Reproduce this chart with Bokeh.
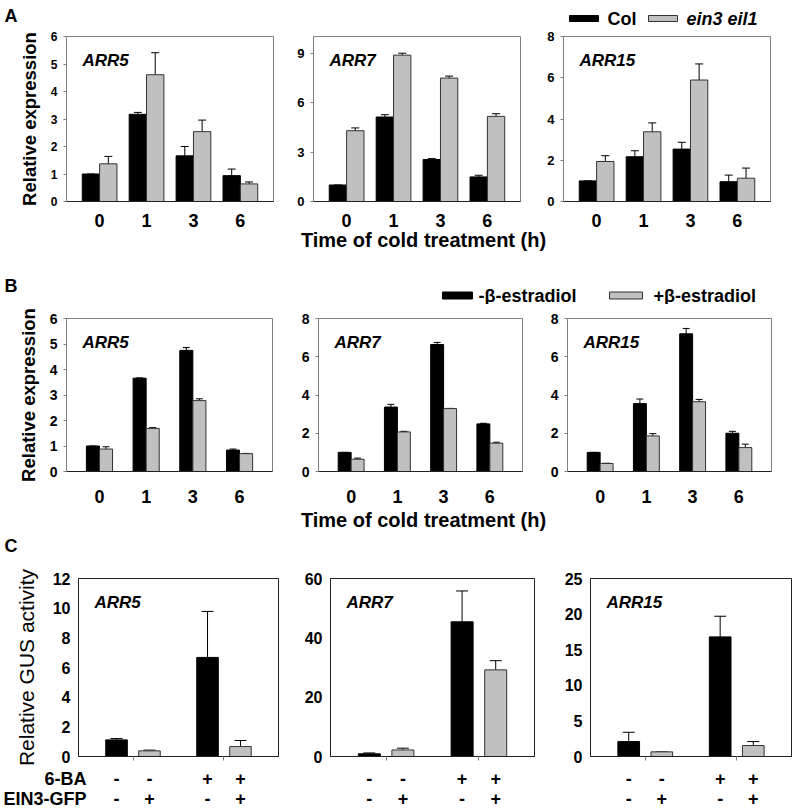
from bokeh.plotting import figure
from bokeh.layouts import column, row
from bokeh.models import (Range1d, FactorRange, FixedTicker, Whisker, TeeHead,
                          ColumnDataSource, Label)
from bokeh.core.properties import value
from bokeh.embed import file_html
from bokeh.resources import INLINE

FONT = "Liberation Sans"
BLACK = "#000000"
GRAY = "#c0c0c0"
EDGE = "#333333"
FRAME = "#808080"
TOTAL_W = 794

# ---------------- data ----------------
times = ["0", "1", "3", "6"]
x_title = "Time of cold treatment (h)"
y_title = "Relative expression"

# Panel A: Col (black) vs ein3 eil1 (gray)
a_legend = ["Col", "ein3 eil1"]
a_arr5_col = [1.00, 3.17, 1.66, 0.94]
a_arr5_col_err = [0.00, 0.07, 0.34, 0.24]
a_arr5_mut = [1.37, 4.61, 2.54, 0.64]
a_arr5_mut_err = [0.27, 0.80, 0.42, 0.07]
a_arr7_col = [1.00, 5.12, 2.54, 1.49]
a_arr7_col_err = [0.00, 0.14, 0.06, 0.10]
a_arr7_mut = [4.29, 8.87, 7.48, 5.16]
a_arr7_mut_err = [0.17, 0.12, 0.12, 0.16]
a_arr15_col = [1.00, 2.17, 2.54, 0.96]
a_arr15_col_err = [0.00, 0.29, 0.33, 0.32]
a_arr15_mut = [1.94, 3.38, 5.89, 1.13]
a_arr15_mut_err = [0.28, 0.43, 0.78, 0.49]

# Panel B: -beta-estradiol (black) vs +beta-estradiol (gray)
b_legend = ["-\u03b2-estradiol", "+\u03b2-estradiol"]
b_arr5_minus = [1.00, 3.66, 4.75, 0.84]
b_arr5_minus_err = [0.00, 0.01, 0.11, 0.04]
b_arr5_plus = [0.88, 1.69, 2.78, 0.70]
b_arr5_plus_err = [0.09, 0.03, 0.07, 0.01]
b_arr7_minus = [1.00, 3.37, 6.64, 2.49]
b_arr7_minus_err = [0.00, 0.14, 0.11, 0.03]
b_arr7_plus = [0.64, 2.07, 3.29, 1.48]
b_arr7_plus_err = [0.06, 0.03, 0.01, 0.05]
b_arr15_minus = [1.00, 3.55, 7.20, 2.00]
b_arr15_minus_err = [0.00, 0.24, 0.28, 0.10]
b_arr15_plus = [0.42, 1.86, 3.65, 1.25]
b_arr15_plus_err = [0.01, 0.12, 0.12, 0.18]

# Panel C: GUS activity
c_y_title = "Relative GUS activity"
c_row_names = ["6-BA", "EIN3-GFP"]
c_ba = ["-", "-", "+", "+"]
c_ein3 = ["-", "+", "-", "+"]
c_arr5 = [1.12, 0.38, 6.68, 0.67]
c_arr5_err = [0.09, 0.05, 3.10, 0.41]
c_arr7 = [0.9, 2.2, 45.4, 29.2]
c_arr7_err = [0.3, 0.6, 10.4, 3.1]
c_arr15 = [2.1, 0.65, 16.8, 1.54]
c_arr15_err = [1.3, 0.0, 2.9, 0.56]


def base_fig(w, h, xr, yr, mbl, mbr, mbt, mbb, outline, **kw):
    p = figure(width=w, height=h, x_range=xr, y_range=yr, output_backend="svg",
               toolbar_location=None, min_border_left=mbl, min_border_right=mbr,
               min_border_top=mbt, min_border_bottom=mbb, **kw)
    p.xgrid.visible = False
    p.ygrid.visible = False
    p.outline_line_color = outline
    p.outline_line_width = 1
    p.background_fill_color = "white"
    p.border_fill_color = "white"
    return p


def add_err(p, xs, vals, errs, cap):
    src = ColumnDataSource(dict(x=xs, lo=vals, hi=[v + e for v, e in zip(vals, errs)]))
    p.add_layout(Whisker(source=src, base="x", lower="lo", upper="hi",
                         line_color="black", line_width=1,
                         upper_head=TeeHead(size=cap, line_color="black", line_width=1),
                         lower_head=None))


def style_y(p, ticks, size, line_color):
    ax = p.yaxis[0]
    ax.ticker = FixedTicker(ticks=ticks)
    ax.minor_tick_line_color = None
    ax.major_tick_in = 0
    ax.major_tick_out = 3
    ax.major_tick_line_color = line_color
    ax.axis_line_color = line_color
    ax.major_label_text_font = FONT
    ax.major_label_text_font_style = "bold"
    ax.major_label_text_font_size = size
    ax.major_label_text_color = "black"
    ax.major_label_standoff = 6


def y_title_on(p, text, size, style, standoff):
    ya = p.yaxis[0]
    ya.axis_label = text
    ya.axis_label_text_font = FONT
    ya.axis_label_text_font_style = style
    ya.axis_label_text_font_size = size
    ya.axis_label_text_color = "black"
    ya.axis_label_standoff = standoff


def gene_label(p, text, xoff, yoff):
    p.add_layout(Label(x=p.x_range.start, y=p.y_range.end, x_offset=xoff, y_offset=-yoff,
                       text=text, text_font=FONT, text_font_style="bold italic",
                       text_font_size="17px", text_color="black", text_baseline="middle"))


def time_panel(gene, s1, e1, s2, e2, ymax, ystep, w, h, mbl, mbr, mbt, mbb,
               barw, cap, ysize, xstand, ylabel=False):
    p = base_fig(w, h, Range1d(-0.706, 3.706), Range1d(0, ymax), mbl, mbr, mbt, mbb, FRAME)
    idx = list(range(len(times)))
    x1 = [i - barw / 2 for i in idx]
    x2 = [i + barw / 2 for i in idx]
    p.vbar(x=x1, top=s1, width=barw, fill_color=BLACK, line_color=BLACK)
    p.vbar(x=x2, top=s2, width=barw, fill_color=GRAY, line_color=EDGE)
    add_err(p, x1, s1, e1, cap)
    add_err(p, x2, s2, e2, cap)
    style_y(p, list(range(0, ymax + 1, ystep)), ysize, FRAME)
    xa = p.xaxis[0]
    xa.ticker = FixedTicker(ticks=idx)
    xa.major_label_overrides = {i: t for i, t in zip(idx, times)}
    xa.major_tick_line_color = None
    xa.minor_tick_line_color = None
    xa.axis_line_color = "#222222"
    xa.major_label_text_font = FONT
    xa.major_label_text_font_style = "bold"
    xa.major_label_text_font_size = "18px"
    xa.major_label_text_color = "black"
    xa.major_label_standoff = xstand
    if ylabel:
        y_title_on(p, y_title, "18.5px", "bold", 8)
    gene_label(p, gene, 16, 24)
    return p


C_OFF = 0.181
C_BARW = 0.237
c_x = [g + s * C_OFF for g in range(2) for s in (-1, 1)]


def gus_panel(gene, vals, errs, ymax, ystep, w, h, mbl, mbr, mbt, mbb, ylabel=False):
    p = base_fig(w, h, Range1d(-0.599, 1.599), Range1d(0, ymax), mbl, mbr, mbt, mbb, "#222222")
    colors = [BLACK if e == "-" else GRAY for e in c_ein3]
    edges = [BLACK if e == "-" else EDGE for e in c_ein3]
    p.vbar(x=c_x, top=vals, width=C_BARW, fill_color=colors, line_color=edges)
    add_err(p, c_x, vals, errs, 12)
    style_y(p, list(range(0, ymax + 1, ystep)), "16px", "#222222")
    p.yaxis[0].major_label_standoff = 8
    p.yaxis[0].major_tick_out = 0
    xa = p.xaxis[0]
    xa.ticker = FixedTicker(ticks=[], minor_ticks=[0, 1])
    xa.major_tick_line_color = None
    xa.minor_tick_out = 4
    xa.minor_tick_in = 0
    xa.minor_tick_line_color = FRAME
    xa.axis_line_color = "#222222"
    xa.major_label_text_font_size = "0px"
    xa.major_label_standoff = 0
    if ylabel:
        y_title_on(p, c_y_title, "21px", "normal", 12)
    gene_label(p, gene, 16, 24)
    return p


def gus_band(xr, w, h, mbl, mbr, names=False):
    b = base_fig(w, h, xr, FactorRange(*reversed(c_row_names)), mbl, mbr, 2, 0, None,
                 x_axis_location=None, y_axis_location="left" if names else None)
    b.text(x=c_x, y=[c_row_names[0]] * len(c_x), text=c_ba, text_font=value(FONT),
           text_font_style="bold", text_font_size="18px", text_align="center",
           text_baseline="middle", text_color="black")
    b.text(x=c_x, y=[c_row_names[1]] * len(c_x), text=c_ein3, text_font=value(FONT),
           text_font_style="bold", text_font_size="18px", text_align="center",
           text_baseline="middle", text_color="black")
    if names:
        ax = b.yaxis[0]
        ax.axis_line_color = None
        ax.major_tick_line_color = None
        ax.minor_tick_line_color = None
        ax.major_label_text_font = FONT
        ax.major_label_text_font_style = "bold"
        ax.major_label_text_font_size = "18px"
        ax.major_label_text_color = "black"
        ax.major_label_standoff = -14
    return b


def header(y0, h, texts, legend=None, italic2=False):
    p = figure(width=TOTAL_W, height=h, x_range=Range1d(0, TOTAL_W), y_range=Range1d(y0 + h, y0),
               output_backend="svg", toolbar_location=None, min_border=0,
               x_axis_type=None, y_axis_type=None)
    p.outline_line_color = None
    p.xgrid.visible = False
    p.ygrid.visible = False
    for (tx, ty, t, size, align) in texts:
        p.text(x=[tx], y=[ty], text=[t], text_font=value(FONT), text_font_style="bold",
               text_font_size=size, text_baseline="middle", text_align=align,
               text_color="black")
    if legend:
        (sx1, sw1, tx1, sx2, sw2, tx2, ly, sh, labels) = legend
        p.rect(x=[sx1], y=[ly], width=sw1, height=sh, fill_color=BLACK, line_color=BLACK)
        p.rect(x=[sx2], y=[ly], width=sw2, height=sh, fill_color=GRAY, line_color=EDGE)
        p.text(x=[tx1], y=[ly], text=[labels[0]], text_font=value(FONT), text_font_style="bold",
               text_font_size="18px", text_baseline="middle", text_color="black")
        p.text(x=[tx2], y=[ly], text=[labels[1]], text_font=value(FONT),
               text_font_style="bold italic" if italic2 else "bold",
               text_font_size="18px", text_baseline="middle", text_color="black")
    return p


# ---------------- layout ----------------
hA = header(0, 28, [(4, 15, "A", "18px", "left")],
            (583.5, 29, 607, 662.5, 29, 686, 18, 6, a_legend), italic2=True)

rowA = row(
    time_panel("ARR5", a_arr5_col, a_arr5_col_err, a_arr5_mut, a_arr5_mut_err, 6, 1,
               290, 201, 66, 17, 8, 27, 0.37, 8, "12px", 6, ylabel=True),
    time_panel("ARR7", a_arr7_col, a_arr7_col_err, a_arr7_mut, a_arr7_mut_err, 10, 3,
               250, 201, 23, 20, 8, 27, 0.37, 8, "13px", 6),
    time_panel("ARR15", a_arr15_col, a_arr15_col_err, a_arr15_mut, a_arr15_mut_err, 8, 2,
               254, 201, 23, 24, 8, 27, 0.37, 8, "13px", 6),
)

hB = header(229, 75, [(423, 239, x_title, "20px", "center"), (4, 285, "B", "18px", "left")],
            (457, 30, 478, 625.5, 33, 653, 295, 7, b_legend))

rowB = row(
    time_panel("ARR5", b_arr5_minus, b_arr5_minus_err, b_arr5_plus, b_arr5_plus_err, 6, 1,
               293, 201, 66, 21, 14, 34, 0.28, 7, "14px", 12, ylabel=True),
    time_panel("ARR7", b_arr7_minus, b_arr7_minus_err, b_arr7_plus, b_arr7_plus_err, 8, 2,
               252, 201, 25, 23, 14, 34, 0.28, 7, "14px", 12),
    time_panel("ARR15", b_arr15_minus, b_arr15_minus_err, b_arr15_plus, b_arr15_plus_err, 8, 2,
               249, 201, 22, 23, 14, 34, 0.28, 7, "14px", 12),
)

hC = header(505, 49, [(423, 519, x_title, "20px", "center"), (4, 545, "C", "18px", "left")])

c1 = gus_panel("ARR5", c_arr5, c_arr5_err, 12, 2, 300, 212, 74, 22, 24, 10, ylabel=True)
c2 = gus_panel("ARR7", c_arr7, c_arr7_err, 60, 20, 256, 212, 30, 22, 24, 10)
c3 = gus_panel("ARR15", c_arr15, c_arr15_err, 25, 5, 238, 212, 34, 3, 24, 10)

rowC = row(
    column(c1, gus_band(c1.x_range, 300, 42, 74, 22, names=True)),
    column(c2, gus_band(c2.x_range, 256, 42, 30, 22)),
    column(c3, gus_band(c3.x_range, 238, 42, 34, 3)),
)

layout = column(hA, rowA, hB, rowB, hC, rowC)

open("out.html", "w").write(file_html(layout, INLINE))
